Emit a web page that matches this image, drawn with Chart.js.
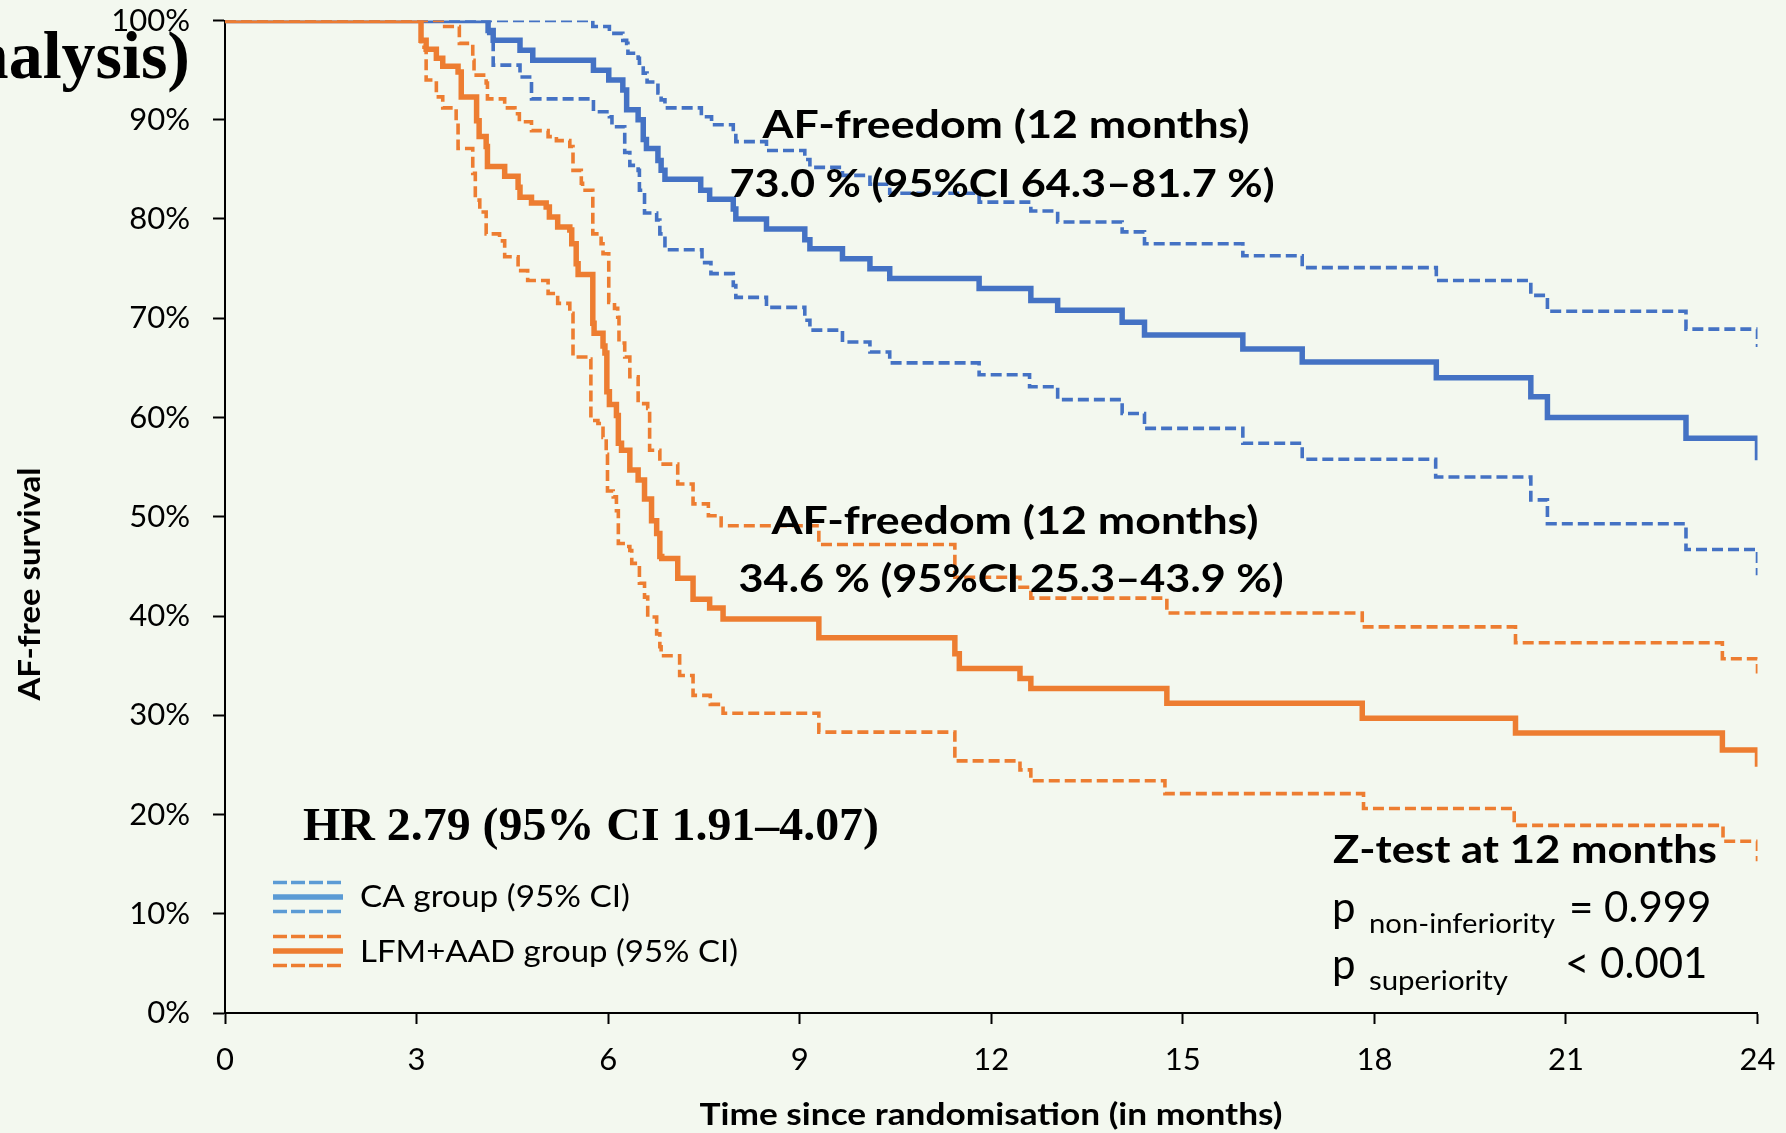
<!DOCTYPE html>
<html>
<head>
<meta charset="utf-8">
<script src="https://cdn.jsdelivr.net/npm/chart.js@4.4.1/dist/chart.umd.min.js"></script>
<style>
  html, body { margin: 0; padding: 0; background: #F3F8EF; }
  #wrap { width: 1786px; height: 1133px; position: relative; }
  canvas { display: block; }
</style>
</head>
<body>
<div id="wrap"><canvas id="c" width="1786" height="1133"></canvas></div>
<script>
// ---------- DATA ----------
const monthTicks = [0, 3, 6, 9, 12, 15, 18, 21, 24];
const survivalTicks = [0, 10, 20, 30, 40, 50, 60, 70, 80, 90, 100];

// CA group – Kaplan-Meier estimate (time in months, survival in %)
const caTime = [0, 4.12, 4.2, 4.62, 4.82, 5.77, 6.01, 6.23, 6.29, 6.47, 6.55, 6.6, 6.78, 6.83, 6.89, 7.45, 7.59, 7.96, 8.0, 8.48, 9.08, 9.16, 9.67, 10.1, 10.41, 11.81, 12.62, 13.04, 14.05, 14.4, 15.94, 16.87, 18.97, 20.45, 20.71, 22.88, 24];
const caSurv = [100, 99.0, 98.0, 97.0, 96.0, 95.0, 94.0, 93.0, 91.0, 90.0, 88.0, 87.1, 85.9, 84.9, 84.0, 82.9, 82.0, 81.0, 80.0, 79.0, 77.9, 77.0, 76.0, 75.0, 74.0, 73.0, 71.8, 70.8, 69.6, 68.3, 66.9, 65.6, 64.0, 62.1, 60.0, 57.9, 55.7];

// CA group – upper 95% CI
const caUpperTime = [0, 5.76, 6.02, 6.23, 6.29, 6.31, 6.47, 6.49, 6.55, 6.61, 6.78, 6.83, 6.89, 7.46, 7.62, 7.96, 8.0, 8.48, 9.08, 9.16, 9.67, 10.1, 10.41, 11.81, 12.62, 13.04, 14.05, 14.4, 15.94, 16.87, 18.97, 20.45, 20.71, 22.88, 24];
const caUpper = [100, 99.4, 98.7, 98.0, 97.7, 96.7, 96.2, 95.7, 94.7, 93.8, 92.7, 92.0, 91.2, 90.3, 89.5, 88.6, 87.8, 86.9, 86.0, 85.2, 84.4, 83.5, 82.6, 81.7, 80.8, 79.7, 78.7, 77.5, 76.3, 75.1, 73.8, 72.3, 70.7, 68.9, 67.1];

// CA group – lower 95% CI
const caLowerTime = [0, 4.13, 4.2, 4.62, 4.8, 5.77, 6.02, 6.06, 6.26, 6.34, 6.47, 6.49, 6.57, 6.76, 6.81, 6.89, 7.47, 7.61, 7.96, 8.0, 8.48, 9.08, 9.16, 9.67, 10.1, 10.41, 11.81, 12.6, 13.04, 14.05, 14.4, 15.94, 16.87, 18.96, 20.45, 20.71, 22.88, 24];
const caLower = [100, 98.7, 95.5, 94.3, 92.1, 90.8, 90.3, 89.3, 86.7, 85.4, 84.9, 82.9, 80.6, 79.9, 78.5, 76.9, 75.6, 74.5, 73.3, 72.1, 71.1, 69.8, 68.8, 67.6, 66.6, 65.5, 64.3, 63.1, 61.8, 60.4, 58.9, 57.4, 55.8, 54.0, 51.7, 49.3, 46.7, 44.1];

// LFM+AAD group – Kaplan-Meier estimate
const lfmTime = [0, 3.07, 3.15, 3.31, 3.41, 3.65, 3.7, 3.94, 3.98, 4.09, 4.11, 4.38, 4.59, 4.62, 4.8, 5.03, 5.08, 5.21, 5.4, 5.43, 5.5, 5.53, 5.76, 5.78, 5.92, 5.95, 5.98, 6.02, 6.13, 6.16, 6.21, 6.34, 6.47, 6.57, 6.68, 6.76, 6.81, 6.84, 7.09, 7.33, 7.59, 7.8, 9.3, 11.43, 11.5, 12.45, 12.62, 14.75, 17.81, 20.21, 23.45, 24];
const lfmSurv = [100, 98.0, 97.1, 96.2, 95.4, 94.8, 92.3, 89.9, 88.3, 87.3, 85.3, 84.3, 83.2, 82.2, 81.6, 81.2, 80.2, 79.2, 78.9, 77.5, 75.5, 74.4, 69.5, 68.5, 67.2, 66.5, 62.6, 61.3, 60.2, 57.4, 56.7, 54.7, 53.7, 51.8, 49.6, 48.3, 46.0, 45.8, 43.8, 41.7, 40.8, 39.7, 37.8, 36.2, 34.7, 33.7, 32.7, 31.2, 29.7, 28.2, 26.5, 24.8];

// LFM+AAD group – upper 95% CI
const lfmUpperTime = [0, 3.44, 3.67, 3.88, 3.9, 4.09, 4.11, 4.38, 4.54, 4.61, 4.8, 5.06, 5.19, 5.4, 5.45, 5.58, 5.6, 5.76, 5.89, 5.92, 6.01, 6.1, 6.15, 6.17, 6.26, 6.34, 6.47, 6.62, 6.65, 6.81, 7.09, 7.33, 7.57, 7.77, 9.3, 11.43, 12.45, 12.62, 14.75, 17.81, 20.21, 23.45, 24];
const lfmUpper = [100, 99.4, 97.7, 96.0, 94.5, 93.7, 92.1, 91.2, 90.6, 89.8, 88.9, 88.3, 87.9, 87.3, 84.9, 83.6, 82.9, 78.5, 77.5, 76.5, 71.6, 71.0, 70.1, 67.5, 66.1, 64.1, 61.4, 60.9, 56.7, 55.3, 53.3, 51.3, 50.1, 49.1, 47.2, 43.9, 42.9, 41.8, 40.3, 38.9, 37.3, 35.7, 34.2];

// LFM+AAD group – lower 95% CI
const lfmLowerTime = [0, 3.07, 3.15, 3.31, 3.41, 3.62, 3.65, 3.88, 3.92, 3.99, 4.09, 4.3, 4.38, 4.59, 4.74, 5.06, 5.21, 5.4, 5.45, 5.71, 5.73, 5.84, 5.92, 5.97, 5.99, 6.08, 6.13, 6.16, 6.29, 6.34, 6.37, 6.49, 6.57, 6.62, 6.76, 6.81, 6.83, 7.12, 7.33, 7.6, 7.8, 9.3, 11.43, 12.45, 12.62, 14.72, 17.83, 20.19, 23.46, 24];
const lfmLower = [100, 97.3, 94.0, 92.3, 91.2, 89.7, 87.1, 84.6, 81.9, 80.7, 78.5, 77.8, 76.2, 74.8, 73.8, 72.5, 71.5, 70.5, 66.1, 65.9, 59.7, 59.4, 58.0, 56.3, 52.6, 52.0, 50.6, 47.3, 47.0, 46.6, 45.3, 43.3, 41.9, 39.9, 38.2, 36.9, 36.0, 34.0, 32.0, 31.1, 30.2, 28.3, 25.4, 24.5, 23.4, 22.1, 20.6, 18.9, 17.3, 15.3];

const seriesLabels = ['CA group (95% CI)', 'LFM+AAD group (95% CI)'];

// ---------- STYLE ----------
const BG = '#F3F8EF';
const BLUE = '#4472C4';
const ORANGE = '#ED7D31';
const LEG_BLUE = '#5B9BD5';
const SANS = 'Lato, "Open Sans", "Liberation Sans", sans-serif';
const SERIF = '"Liberation Serif", "Times New Roman", serif';

const pts = (t, v) => t.map((x, i) => ({ x: x, y: v[i] }));

function line(label, t, v, color, dashed) {
  return {
    label: label,
    data: pts(t, v),
    borderColor: color,
    backgroundColor: color,
    borderWidth: dashed ? 3.6 : 5.5,
    borderDash: dashed ? [11, 5] : [],
    stepped: 'before',
    pointRadius: 0,
    pointHoverRadius: 0,
    fill: false,
    tension: 0,
    borderCapStyle: 'butt',
    borderJoinStyle: 'miter'
  };
}

// text helper: optional horizontal fit to a target width
function txt(c, s, x, y, font, align, w) {
  c.save();
  c.font = font;
  const m = c.measureText(s).width;
  const sx = w ? w / m : 1;
  c.translate(x, y);
  c.scale(sx, 1);
  c.textAlign = align;
  c.textBaseline = 'alphabetic';
  c.fillStyle = '#000';
  c.fillText(s, 0, 0);
  c.restore();
}

const bgPlugin = {
  id: 'bg',
  beforeDraw(chart) {
    const c = chart.ctx;
    c.save();
    c.fillStyle = BG;
    c.fillRect(0, 0, chart.width, chart.height);
    c.restore();
  }
};

const annotPlugin = {
  id: 'annot',
  afterDraw(chart) {
    const c = chart.ctx;
    c.save();

    // cut-off title fragment
    txt(c, 'nalysis)', 190, 78, 'bold 68px ' + SERIF, 'right');

    // y-axis title
    c.save();
    c.translate(40, 584);
    c.rotate(-Math.PI / 2);
    txt(c, 'AF-free survival', 0, 0, 'bold 30px ' + SANS, 'center', 233);
    c.restore();

    // x-axis title
    txt(c, 'Time since randomisation (in months)', 991, 1125, 'bold 31px ' + SANS, 'center', 583);

    // AF-freedom annotations
    const b39 = 'bold 39px ' + SANS;
    txt(c, 'AF-freedom (12 months)', 1006, 138, b39, 'center', 487);
    txt(c, '73.0 % (95%CI 64.3\u201381.7 %)', 1002, 197, b39, 'center', 545);
    txt(c, 'AF-freedom (12 months)', 1015, 534, b39, 'center', 487);
    txt(c, '34.6 % (95%CI 25.3\u201343.9 %)', 1011, 592, b39, 'center', 545);

    // HR
    txt(c, 'HR 2.79 (95% CI 1.91\u20134.07)', 303, 840, 'bold 47px ' + SERIF, 'left', 576);

    // Z-test block
    txt(c, 'Z-test at 12 months', 1333, 863, b39, 'left', 384);
    txt(c, 'p', 1332, 922, '42px ' + SANS, 'left');
    txt(c, '= 0.999', 1569, 922, '42px ' + SANS, 'left');
    txt(c, 'p', 1332, 979, '42px ' + SANS, 'left');
    txt(c, '< 0.001', 1565, 978, '42px ' + SANS, 'left');
    txt(c, 'non-inferiority', 1369, 933, '27px ' + SANS, 'left', 186);
    txt(c, 'superiority', 1369, 990, '27px ' + SANS, 'left', 139);

    // legend
    const items = [
      { color: LEG_BLUE, y: 897, text: seriesLabels[0], base: 907, w: 270 },
      { color: ORANGE, y: 951, text: seriesLabels[1], base: 962, w: 378 }
    ];
    items.forEach(it => {
      c.strokeStyle = it.color;
      c.lineCap = 'butt';
      c.lineWidth = 3.4;
      c.setLineDash([14, 4]);
      [-14.5, 14.5].forEach(dy => {
        c.beginPath(); c.moveTo(273, it.y + dy); c.lineTo(343, it.y + dy); c.stroke();
      });
      c.setLineDash([]);
      c.lineWidth = 5.5;
      c.beginPath(); c.moveTo(273, it.y); c.lineTo(343, it.y); c.stroke();
      txt(c, it.text, 360, it.base, '31px ' + SANS, 'left', it.w);
    });

    c.restore();
  }
};

new Chart(document.getElementById('c'), {
  type: 'line',
  data: {
    datasets: [
      line(seriesLabels[1], lfmTime, lfmSurv, ORANGE, false),
      line(seriesLabels[1] + ' upper', lfmUpperTime, lfmUpper, ORANGE, true),
      line(seriesLabels[1] + ' lower', lfmLowerTime, lfmLower, ORANGE, true),
      line(seriesLabels[0], caTime, caSurv, BLUE, false),
      line(seriesLabels[0] + ' upper', caUpperTime, caUpper, BLUE, true),
      line(seriesLabels[0] + ' lower', caLowerTime, caLower, BLUE, true)
    ]
  },
  options: {
    responsive: false,
    devicePixelRatio: 1,
    animation: false,
    events: [],
    layout: { padding: 0 },
    plugins: { legend: { display: false }, tooltip: { enabled: false }, title: { display: false } },
    scales: {
      x: {
        type: 'linear',
        min: 0, max: 24,
        afterBuildTicks: s => { s.ticks = monthTicks.map(v => ({ value: v })); },
        afterFit: s => { s.height = 120; s.paddingLeft = 0; s.paddingRight = 28.5; },
        grid: { drawOnChartArea: false, drawTicks: true, tickLength: 11, tickWidth: 2, tickColor: '#000' },
        border: { display: true, color: '#000', width: 2 },
        ticks: { color: '#000', font: { family: SANS, size: 31 }, padding: 17, maxRotation: 0, autoSkip: false,
                 callback: v => String(v) },
        title: { display: false }
      },
      y: {
        type: 'linear',
        min: 0, max: 100,
        afterBuildTicks: s => { s.ticks = survivalTicks.map(v => ({ value: v })); },
        afterFit: s => { s.width = 225; s.paddingTop = 20.5; s.paddingBottom = 0; },
        grid: { drawOnChartArea: false, drawTicks: true, tickLength: 12, tickWidth: 2, tickColor: '#000' },
        border: { display: true, color: '#000', width: 2 },
        ticks: { color: '#000', font: { family: SANS, size: 31 }, padding: 23, autoSkip: false,
                 callback: v => v + '%' }
      }
    }
  },
  plugins: [bgPlugin, annotPlugin]
});
</script>
</body>
</html>
